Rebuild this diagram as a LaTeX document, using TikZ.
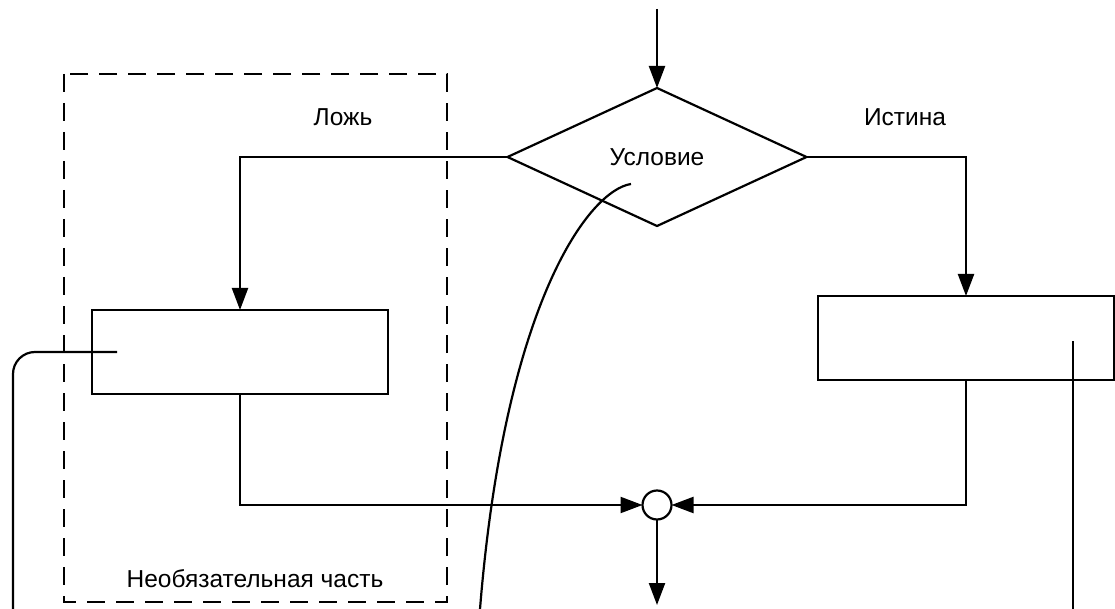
\documentclass[tikz,border=0pt]{standalone}
\usepackage{fontspec}
\setmainfont{Liberation Sans}
\usetikzlibrary{shapes.geometric,arrows.meta}
\begin{document}
\begin{tikzpicture}[x=1pt,y=-1pt,
  line/.style={line width=2.2pt},
  flow/.style={line, -{Triangle[length=22pt,width=16pt]}},
  block/.style={draw, line width=2.2pt, minimum width=296pt, minimum height=84pt, inner sep=0pt, outer sep=0pt},
  decision/.style={draw, diamond, line width=2.2pt, minimum width=299pt, minimum height=138pt, inner sep=0pt, outer sep=0pt},
  junction/.style={draw, circle, line width=2.2pt, minimum size=29pt, inner sep=0pt, outer sep=0pt},
  label/.style={font=\fontsize{24.5}{28}\selectfont, inner sep=0pt},
  optional/.style={line width=2.2pt, dash pattern=on 18pt off 11pt},
  callout/.style={line width=2.2pt}]
\useasboundingbox (0,0) rectangle (1115,609);

% main flow elements
\node[decision, label] (cond) at (657,157) {Условие};
\node[block] (fbox) at (240,352) {};
\node[block] (tbox) at (966,338) {};
\node[junction] (join) at (657,505) {};
\coordinate (in) at (657,9);
\coordinate (out) at (657,605);

% branch labels
\node[label] (lfalse) at (343,117) {Ложь};
\node[label] (ltrue) at (905,117) {Истина};

% optional part frame
\draw[optional] (64,74) rectangle (447,602);
\node[label] (lopt) at (255,579) {Необязательная часть};

% connectors
\draw[flow] (in) -- (cond.north);
\draw[flow] (cond.west) -| (fbox.north);
\draw[flow] (cond.east) -| (tbox.north);
\draw[flow] (fbox.south) |- (join.west);
\draw[flow] (tbox.south) |- (join.east);
\draw[flow] (join.south) -- (out);

% callout leaders
\coordinate (c1) at (117,352);
\coordinate (c1end) at (13,609);
\coordinate (c2) at (631,184);
\coordinate (c2end) at (480,609);
\coordinate (c3) at (1073,341);
\coordinate (c3end) at (1073,609);
\draw[callout, rounded corners=22pt] (c1) -| (c1end);
\draw[callout] (c2) .. controls (590,190) and (505,300) .. (c2end);
\draw[callout] (c3) -- (c3end);
\end{tikzpicture}
\end{document}
